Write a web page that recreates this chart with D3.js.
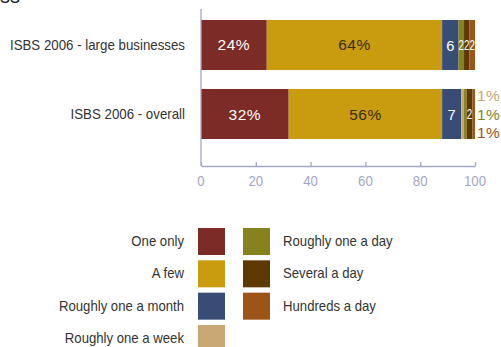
<!DOCTYPE html>
<html>
<head>
<meta charset="utf-8">
<script src="https://cdn.jsdelivr.net/npm/d3@7"></script>
<style>
  html, body { margin: 0; padding: 0; background: #fff; }
  svg { display: block; }
</style>
</head>
<body>
<svg id="chart" width="501" height="347"></svg>
<script>
// ---- data ----
const categories = ["ISBS 2006 - large businesses", "ISBS 2006 - overall"];
const seriesNames = ["One only", "A few", "Roughly one a month", "Roughly one a week",
                     "Roughly one a day", "Several a day", "Hundreds a day"];
const largeValues   = [24, 64, 6, 0, 2, 2, 2];
const overallValues = [32, 56, 7, 1, 1, 2, 1];
const seriesColors = ["#7c2b27", "#c99b0f", "#384c75", "#c9a874", "#86831f", "#5d3900", "#9c5417"];
const xTicks = [0, 20, 40, 60, 80, 100];

const valuesByCat = [largeValues, overallValues];

const svg = d3.select("#chart");
const font = "'Liberation Sans', Arial, Helvetica, sans-serif";

// condensed text helper: horizontal squeeze via transform
function ctext(g, px, py, str, opts) {
  const k = opts.k || 1;
  return g.append("text")
    .attr("transform", `translate(${px},${py}) scale(${k},1)`)
    .attr("x", 0).attr("y", 0)
    .attr("text-anchor", opts.anchor || "start")
    .attr("dominant-baseline", "central")
    .attr("font-family", font)
    .attr("font-size", opts.size || 14)
    .attr("fill", opts.fill || "#333")
    .attr("letter-spacing", opts.ls || 0)
    .text(str);
}

// cut-off title fragment at top-left
svg.append("text").attr("x", 0).attr("y", 3)
  .attr("font-family", font).attr("font-size", 20).attr("fill", "#222")
  .text("ss");

const x = d3.scaleLinear().domain([0, 100]).range([201, 475]);
const y = d3.scaleBand().domain(categories).range([1, 158]).paddingInner(0.275).paddingOuter(0.275);

// build stacked table
const table = categories.map((c, i) => {
  const row = { cat: c };
  seriesNames.forEach((s, j) => row[s] = valuesByCat[i][j]);
  return row;
});
const stack = d3.stack().keys(seriesNames)(table);

const axisColor = "#a3a6c6";

// bars
stack.forEach((layer, j) => {
  svg.append("g").selectAll("rect").data(layer).join("rect")
    .attr("x", d => x(d[0]))
    .attr("width", d => Math.max(0, x(d[1]) - x(d[0])))
    .attr("y", d => y(d.data.cat))
    .attr("height", y.bandwidth())
    .attr("fill", seriesColors[j]);
});

// axes lines
svg.append("line").attr("x1", x(0)).attr("x2", x(0)).attr("y1", 9).attr("y2", 166)
  .attr("stroke", axisColor).attr("stroke-width", 1.3);

const xAxis = d3.axisBottom(x).tickValues(xTicks).tickSizeInner(-4).tickSizeOuter(0).tickFormat(() => "");
const gx = svg.append("g").attr("transform", "translate(0,166)").call(xAxis);
gx.select(".domain").attr("stroke", axisColor).attr("stroke-width", 1.3);
gx.selectAll(".tick line").attr("stroke", axisColor).attr("stroke-width", 1.3);
xTicks.forEach(t => {
  ctext(svg, x(t), 181, String(t), { anchor: "middle", size: 15, fill: axisColor, k: 0.88 });
});

// category labels
categories.forEach(c => {
  ctext(svg, 185, y(c) + y.bandwidth() / 2, c, { anchor: "end", size: 14, fill: "#333", k: 0.95 });
});

// value labels inside bars
stack.forEach((layer, j) => {
  layer.forEach(d => {
    const v = d[1] - d[0];
    if (v < 2) return;
    const cy = y(d.data.cat) + y.bandwidth() / 2;
    const cx = (x(d[0]) + x(d[1])) / 2;
    if (v >= 10) {
      ctext(svg, cx, cy, v + "%", { anchor: "middle", size: 15.5, fill: j === 1 ? "#3a2a05" : "#fff", ls: 0.5 });
    } else if (v >= 5) {
      ctext(svg, cx, cy, String(v), { anchor: "middle", size: 15.5, fill: "#fff", k: 0.95 });
    } else {
      ctext(svg, cx, cy, String(v), { anchor: "middle", size: 14, fill: "#fff", k: 0.7 });
    }
  });
});

// outside labels for 1% segments in overall bar
const outside = [];
stack.forEach((layer, j) => {
  const d = layer[1];
  if (d[1] - d[0] === 1) outside.push({ j, v: d[1] - d[0] });
});
const cy2 = y(categories[1]) + y.bandwidth() / 2;
outside.forEach((o, k) => {
  ctext(svg, 477, cy2 + (k - 1) * 18.5, o.v + "%", { size: 15.5, fill: seriesColors[o.j], ls: 0.3 });
});

// legend
const leftCol = seriesNames.slice(0, 4);
const rightCol = seriesNames.slice(4);
const rowY = d3.scalePoint().domain([0, 1, 2, 3]).range([228, 325]);
const lg = svg.append("g");
leftCol.forEach((s, i) => {
  lg.append("rect").attr("x", 198).attr("y", rowY(i)).attr("width", 27).attr("height", 27)
    .attr("fill", seriesColors[i]);
  ctext(lg, 184, rowY(i) + 13.5, s, { anchor: "end", size: 14, fill: "#333", k: 0.94 });
});
rightCol.forEach((s, i) => {
  const j = i + 4;
  lg.append("rect").attr("x", 243).attr("y", rowY(i)).attr("width", 27).attr("height", 27)
    .attr("fill", seriesColors[j]);
  ctext(lg, 283, rowY(i) + 13.5, s, { size: 14, fill: "#333", k: 0.94 });
});
</script>
</body>
</html>
